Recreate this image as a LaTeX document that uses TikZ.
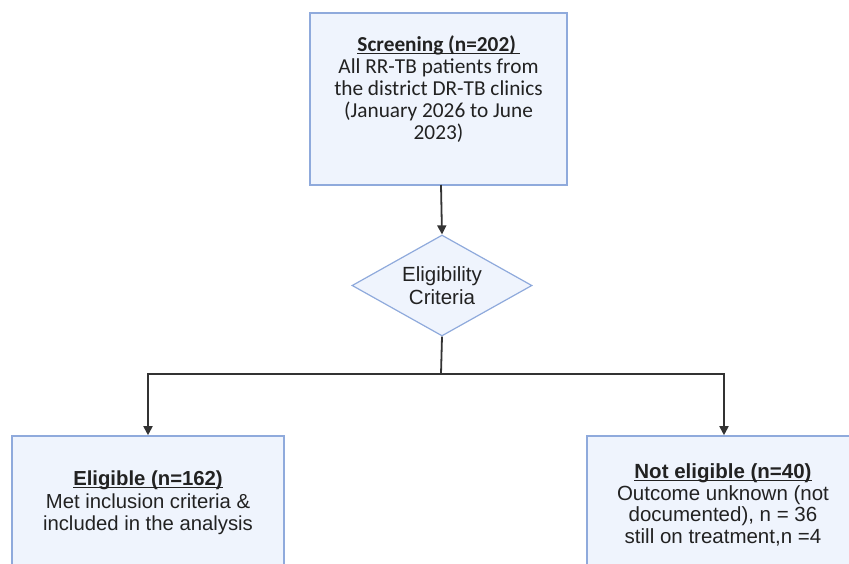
\documentclass[tikz,border=0pt]{standalone}
\usepackage{fontspec}
\setmainfont{Liberation Sans}
\newfontfamily\topfont{Carlito}
\usetikzlibrary{shapes.geometric,arrows.meta}
\definecolor{boxfill}{HTML}{EFF4FD}
\definecolor{boxline}{HTML}{8FAADC}
\definecolor{arrowcol}{HTML}{333333}
\definecolor{textcol}{HTML}{222222}
\newcommand{\myul}[1]{\setbox0\hbox{#1}\rlap{\rule[-2.6pt]{\wd0}{1.1pt}}\box0}
\tikzset{
  stepbox/.style={draw=boxline, fill=boxfill, line width=1.6pt, align=center, inner sep=0pt},
  decide/.style={diamond, draw=boxline, fill=boxfill, line width=1.2pt, align=center, inner sep=0pt, aspect=1.78, minimum width=180pt, minimum height=101pt, text=textcol},
  flow/.style={draw=arrowcol, line width=1.8pt, -{Triangle[length=9pt,width=9pt]}},
  plain/.style={draw=arrowcol, line width=1.8pt},
  label text/.style={align=center, text=textcol},
}
\begin{document}
\begin{tikzpicture}[x=1pt,y=-1pt]
\useasboundingbox (0,0) rectangle (849,563);
\clip (0,0) rectangle (849,563);
\node[stepbox, minimum width=257pt, minimum height=172pt] (screen) at (438.5,99) {};
\node[label text, font=\topfont\fontsize{21.3}{22}\selectfont] (screentext) at (438.5,89)
  {\myul{\textbf{Screening (n=202)}\,}\\All RR-TB patients from\\the district DR-TB clinics\\(January 2026 to June\\2023)};
\node[decide, font=\fontsize{20.5}{23}\selectfont] (crit) at (442,285.5) {Eligibility\\Criteria};
\node[stepbox, minimum width=272pt, minimum height=150pt] (elig) at (148,511) {};
\node[label text, font=\fontsize{20.3}{22.5}\selectfont] (eligtext) at (148,503)
  {\myul{\textbf{Eligible (n=162)}}\\Met inclusion criteria \&\\included in the analysis};
\node[stepbox, minimum width=272pt, minimum height=150pt] (noelig) at (723,511) {};
\node[label text, font=\fontsize{20.5}{21.5}\selectfont] (noeligtext) at (723,505)
  {\myul{\textbf{Not eligible (n=40)}}\\Outcome unknown (not\\documented), n = 36\\still on treatment,n =4};
\coordinate (split) at (441,374);
\coordinate (lcorner) at (148,374);
\coordinate (rcorner) at (724,374);
\draw[flow] (441,185) -- (crit.north);
\draw[plain] (crit.south) -- (split);
\draw[flow] (split) -- (lcorner) -- (elig.north -| lcorner);
\draw[flow] (split) -- (rcorner) -- (noelig.north -| rcorner);
\end{tikzpicture}
\end{document}
